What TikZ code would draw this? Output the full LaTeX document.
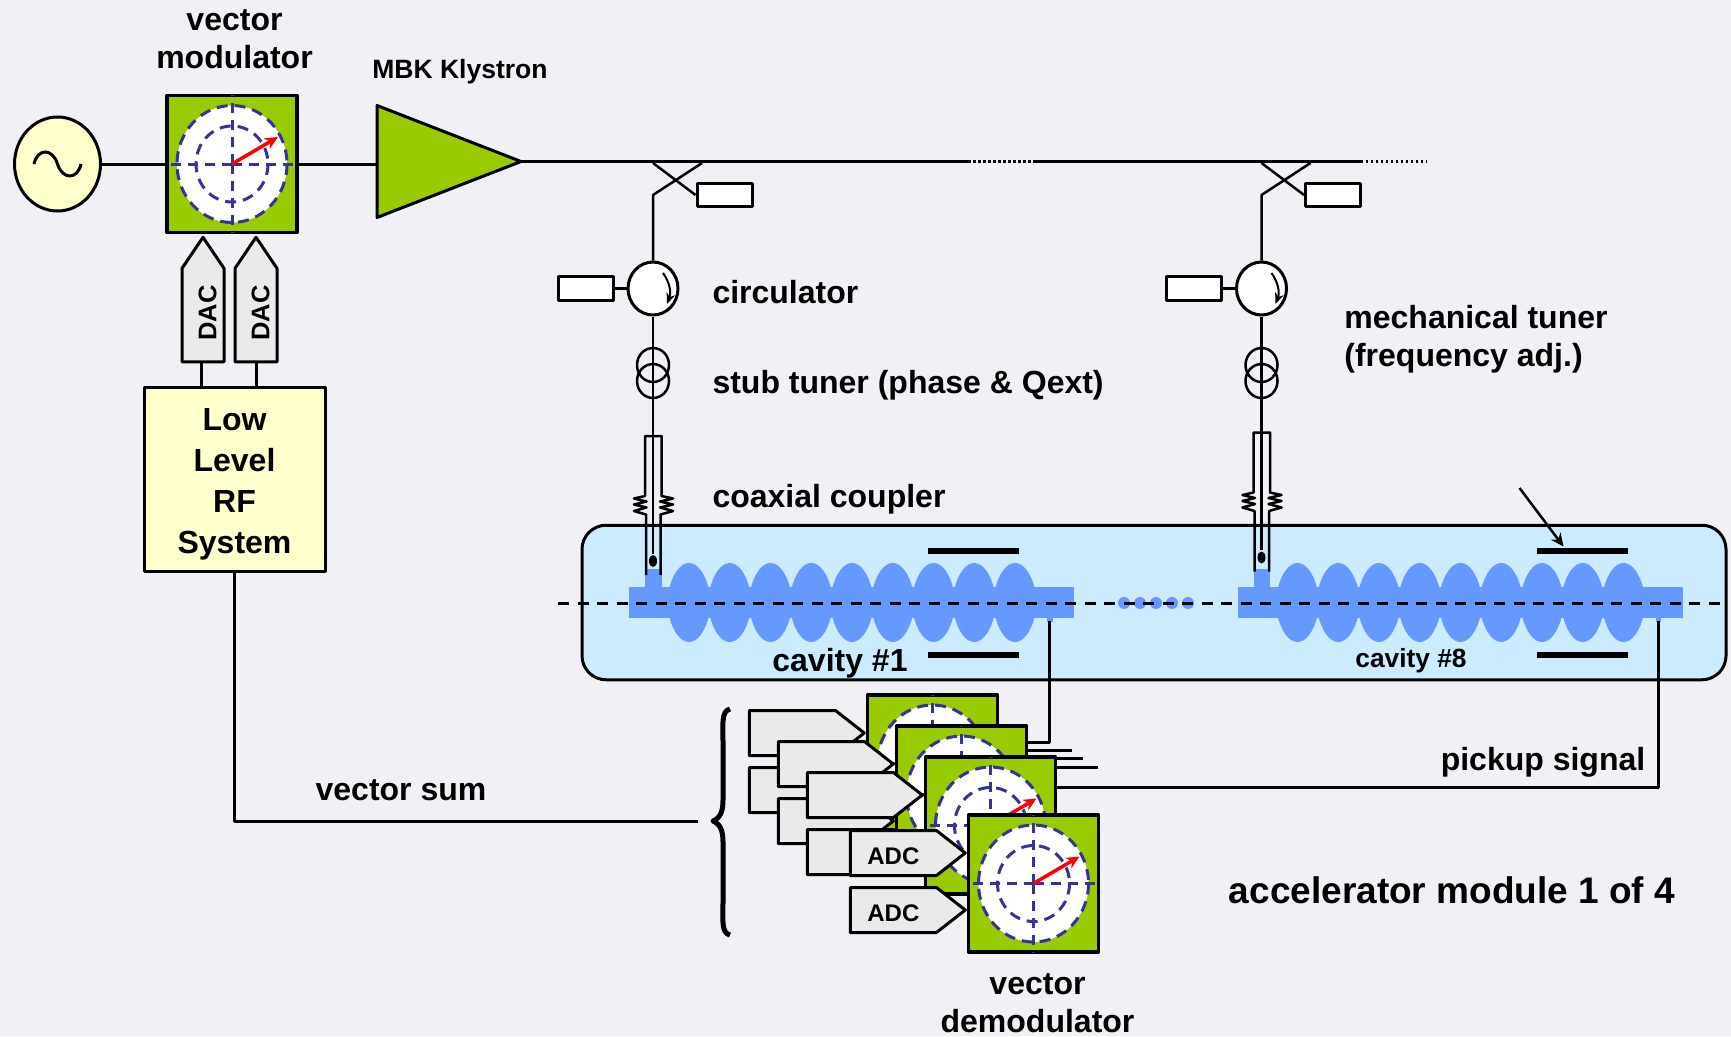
\documentclass[tikz,border=0pt]{standalone}
\usepackage{fontspec}
\setmainfont{Liberation Sans}
\usetikzlibrary{positioning,shapes.geometric,shapes.symbols,calc,arrows.meta}
\definecolor{slide}{HTML}{F0F0F5}
\definecolor{vecgreen}{HTML}{99CC00}
\definecolor{dialblue}{HTML}{333399}
\definecolor{paleyellow}{HTML}{FFFFCC}
\definecolor{cryoblue}{HTML}{CCEBFF}
\definecolor{cellblue}{HTML}{6699FF}
\definecolor{adcgrey}{HTML}{EAEAEA}

\begin{document}
\begin{tikzpicture}[%
    x=1pt,
    y=-1pt,
    >={Stealth[length=13pt,width=12pt]},
    line width=3pt,
    line join=round,
    wire/.style={draw,line width=3pt},
    thinwire/.style={draw,line width=2.5pt},
    lbl/.style={font=\fontsize{32}{38}\selectfont\bfseries,inner sep=0,outer sep=0,align=center},
    vecbox/.style={%
      rectangle,
      minimum width=130,
      minimum height=137,
      fill=vecgreen,
      draw,
      line width=3.5pt,
      inner sep=0
    },
    termbox/.style={%
      rectangle,
      minimum width=55,
      minimum height=23.5,
      fill=white,
      draw,
      inner sep=0
    },
    circbox/.style={%
      ellipse,
      minimum width=50,
      minimum height=53,
      fill=white,
      draw,
      inner sep=0
    },
    stubring/.style={%
      ellipse,
      minimum width=32,
      minimum height=34,
      draw,
      line width=2.5pt,
      inner sep=0
    },
    tunerbar/.style={%
      rectangle,
      minimum width=91,
      minimum height=6,
      fill=black,
      inner sep=0
    },
    adcbox/.style={%
      signal,
      signal to=east,
      signal pointer angle=76,
      minimum width=115,
      minimum height=45,
      fill=adcgrey,
      draw,
      inner sep=0,
      outer sep=0,
      text height=23pt,
      font=\fontsize{24}{24}\selectfont\bfseries
    },
    dacbox/.style={%
      signal,
      signal to=east,
      signal pointer angle=68,
      rotate=90,
      minimum width=124.5,
      minimum height=42,
      fill=adcgrey,
      draw,
      inner sep=0,
      outer sep=0,
      text height=27pt,
      font=\fontsize{25.5}{25.5}\selectfont\bfseries
    },
    cellshape/.pic={%
      \fill[cellblue] (-20,0) -- (-20,-13) .. controls (-16,-30) and (-8,-39.5) .. (0,-39.5)
        .. controls (8,-39.5) and (16,-30) .. (20,-13) -- (20,13)
        .. controls (16,30) and (8,39.5) .. (0,39.5) .. controls (-8,39.5) and (-16,30) .. (-20,13) -- cycle;
    },
    phasor/.pic={%
      \fill[white] (0,0) ellipse (55 and 58.5);
      \draw[dialblue,dash pattern=on 11pt off 7pt] (0,0) ellipse (55 and 58.5);
      \draw[dialblue,dash pattern=on 11pt off 7pt] (0,0) ellipse (36 and 38);
      \draw[dialblue,dash pattern=on 10pt off 7pt] (0,0) -- (65.5,0);
      \draw[dialblue,dash pattern=on 10pt off 7pt] (0,0) -- (-65.5,0);
      \draw[dialblue,dash pattern=on 10pt off 7pt] (0,0) -- (0,69);
      \draw[dialblue,dash pattern=on 10pt off 7pt] (0,0) -- (0,-69);
      \draw[->,red,line width=3.5pt] (0,0) -- (46,-27);
    }
  ]
    \fill[slide] (0,0) rectangle (1731,1036);
    \useasboundingbox (0,0) rectangle (1731,1036);

    \node[ellipse,minimum width=86,minimum height=94,fill=paleyellow,draw,inner sep=0] (osc) at (57.5,164) {};
    \draw[shift={(osc)}] (-23.5,0) .. controls (-20,-16) and (-5,-16) .. (0,0) .. controls (5,16) and (20,16) .. (23.5,0);

    \node[vecbox] (vm) at (232,164) {};
    \pic at (vm) {phasor};
    \node[lbl] (vmlabel) at (234.5,39) {vector\\modulator};

    \node[isosceles triangle,isosceles triangle apex angle=42,isosceles triangle stretches,
      minimum width=112,minimum height=144,fill=vecgreen,draw,inner sep=0,outer sep=0,anchor=apex] (kly) at (521,161.5) {};
    \node[lbl,font=\fontsize{26.5}{26.5}\selectfont\bfseries,anchor=base] (klylabel) at (460,78) {MBK Klystron};

    \node[dacbox,anchor=east] (dacA) at ($(vm.south)+(-29,3)$) {\hspace*{4pt}DAC};
    \node[dacbox,anchor=east] (dacB) at ($(vm.south)+(24,3)$) {\hspace*{4pt}DAC};
    \node[rectangle,minimum width=181,minimum height=184,fill=paleyellow,draw,inner sep=0] (llrf) at (234.5,479.5) {};
    \node[font=\fontsize{32}{41}\selectfont\bfseries,align=center,inner sep=0] (llrflabel) at (234.5,484) {Low\\Level\\RF\\System};

    \path (osc) edge[wire] (vm)
          (vm.east) edge[wire] (vm.east -| kly.lower side)
          ($(dacA.west)+(-1.5,0)$) edge[wire] ($(dacA.west |- llrf.north)+(-1.5,0)$)
          (dacB.west) edge[wire] (dacB.west |- llrf.north);

    \node[rectangle,rounded corners=24pt,minimum width=1144,minimum height=154.5,fill=cryoblue,draw,inner sep=0] (cryo) at (1154,602.5) {};

    \coordinate (dotA) at (968,161.5);
    \coordinate (dotB) at (1035,161.5);
    \coordinate (dotC) at (1360.5,161.5);
    \coordinate (dotD) at (1427,161.5);
    \draw[wire] (kly.apex) -- (dotA);
    \draw[dash pattern=on 2.5pt off 2.5pt,line width=2.5pt] (dotA) -- (dotB);
    \draw[wire] (dotB) -- (dotC);
    \draw[dash pattern=on 2.5pt off 2.5pt,line width=2.5pt] (dotC) -- (dotD);

    \foreach \nm/\xo/\yo in {A/0/0,B/608.5/-3.5} {
      \begin{scope}[xshift=\xo pt]
        \fill[cellblue] (629,586.5) rectangle (1074,617.5);
        \fill[cellblue] (645,568.5) rectangle (661.5,587);
        \fill[cellblue] (1047,617) rectangle (1052.5,622);
        \foreach \i in {0,...,8}
          \pic at ({689+40.75*\i},602.5) {cellshape};
        \coordinate (pick\nm) at (1049.5,621);
        \node[tunerbar] (tunerup\nm) at (973.5,551) {};
        \node[tunerbar] (tunerdn\nm) at (973.5,654.5) {};

        \node[termbox] (dumpup\nm) at (724.5,195) {};
        \node[termbox] (dumpcirc\nm) at (585.5,288.5) {};
        \node[circbox] (circ\nm) at (653,288.5) {};
        \node[stubring] (stuba\nm) at (653,365) {};
        \node[stubring] (stubb\nm) at (653,381) {};
        \node[ellipse,minimum width=8,minimum height=12,fill=black,inner sep=0] (tip\nm) at (653,{561+\yo}) {};
        \coordinate (tapa\nm) at (653,163);
        \coordinate (tapb\nm) at (702,163);
        \coordinate (bend\nm) at (653,195);

        \draw[thinwire] (tapa\nm) -- (dumpup\nm.west);
        \draw[thinwire] (tapb\nm) -- (bend\nm) -- (circ\nm.north);
        \path (dumpcirc\nm) edge[thinwire] (circ\nm)
              (circ\nm) edge[thinwire] (tip\nm);
        \draw[-{Stealth[length=11pt,width=9pt]},line width=2pt] (663,273) to[bend left=28] (667,304);

        \begin{scope}[yshift=-\yo pt]
          \draw[thinwire] (646,575) -- (646,514.5) -- (634,511) -- (646.5,507.5) -- (634,504.5) -- (646.5,501.5) -- (634,498.5)
            -- (645,496) -- (645,436) -- (661.5,436) -- (661.5,496) -- (673,498.5) -- (660,501.5) -- (673,504.5) -- (660,507.5)
            -- (673,511) -- (660.5,514.5) -- (660.5,575);
        \end{scope}
      \end{scope}
    }

    \foreach \cx in {1124,1140,1156,1172,1188}
      \fill[cellblue] (\cx,603) circle (6);
    \coordinate (axisA) at (558,603);
    \coordinate (axisB) at (1726,603);
    \draw[dash pattern=on 11pt off 8.5pt] (axisA) -- (axisB);

    \node[lbl,anchor=base] (cavlabelA) at (840,671) {cavity \#1};
    \node[lbl,font=\fontsize{26.3}{26.3}\selectfont\bfseries,anchor=base] (cavlabelB) at (1411,667) {cavity \#8};
    \node[lbl,anchor=base west] (circlabel) at (712.5,303) {circulator};
    \node[lbl,anchor=base west] (stublabel) at (712.5,393) {stub tuner (phase \& Qext)};
    \node[lbl,anchor=base west] (cplrlabel) at (712.5,507) {coaxial coupler};
    \node[lbl,align=left] (tunerlabel) at (1476,339.5) {mechanical tuner\\(frequency adj.)};
    \coordinate (tunertail) at (1519.5,488);
    \draw[->,line width=2.5pt] (tunertail) -- ($(tunerupB.north)+(-18.5,0)$);

    \foreach \nm/\xx/\yy/\adc in {A/932.5/763.5/{},B/961.5/794.5/{},C/990.5/825.5/{},D/1033.5/883.5/ADC} {
      \node[vecbox] (sq\nm) at (\xx,\yy) {};
      \pic at (sq\nm) {phasor};
      \node[adcbox,anchor=east] (adcup\nm) at ($(sq\nm.west)+(-1.5,-30.5)$) {\adc};
      \node[adcbox,anchor=east] (adcdn\nm) at ($(sq\nm.west)+(-1.5,26.5)$) {\adc};
    }

    \coordinate (stubout) at (1072,750);
    \draw[wire] (pickA) -- (pickA |- 0,742) -- (sqB.east |- 0,742);
    \draw[wire] (sqB.east |- stubout) -- (stubout);
    \draw[wire] (sqC.east |- 0,758) -- (1083,758);
    \draw[wire] (sqC.east |- 0,767) -- (1098,767);
    \draw[wire] (pickB) -- (pickB |- 0,787) -- (sqC.east |- 0,787);

    \coordinate (bracetip) at (713,821);
    \coordinate (sumend) at (698,821);
    \draw[wire] (llrf.south) |- (sumend);
    \draw[line width=5pt] (730,709) .. controls (721,711) and (723,725) .. (723,742) -- (723,800)
      .. controls (723,812) and (720,818) .. (bracetip) .. controls (720,824) and (723,830) .. (723,842)
      -- (723,902) .. controls (723,920) and (721,933) .. (730,935);

    \node[lbl,anchor=base] (sumlabel) at (401,800) {vector sum};
    \node[lbl,anchor=base] (picklabel) at (1543,770.5) {pickup signal};
    \node[lbl,font=\fontsize{37}{37}\selectfont\bfseries,anchor=base] (modlabel) at (1452,903) {accelerator module 1 of 4};
    \node[lbl] (demodlabel) at (1037.5,1003) {vector\\demodulator};
\end{tikzpicture}
\end{document}
